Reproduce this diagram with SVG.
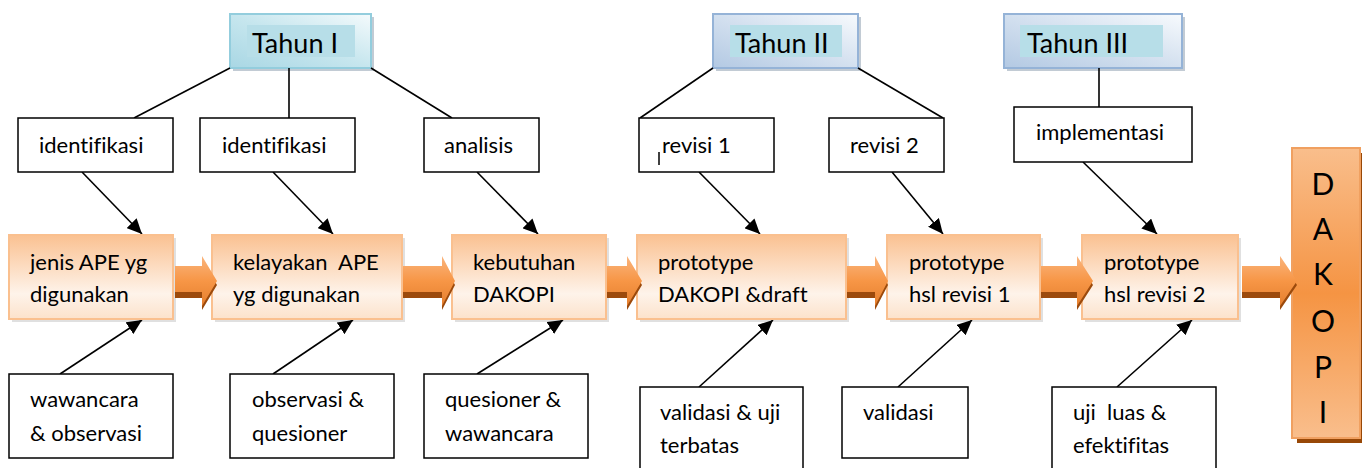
<svg xmlns="http://www.w3.org/2000/svg" width="1362" height="468" viewBox="0 0 1362 468">
<defs>
<linearGradient id="gOr" x1="0" y1="0" x2="0" y2="1">
<stop offset="0" stop-color="#FAC191"/><stop offset="0.7" stop-color="#FEF3EA"/><stop offset="1" stop-color="#FCE2CB"/>
</linearGradient>
<linearGradient id="gT1" x1="1" y1="0" x2="0" y2="1">
<stop offset="0" stop-color="#F4FAFC"/><stop offset="0.5" stop-color="#C6E6EE"/><stop offset="1" stop-color="#A9D7E4"/>
</linearGradient>
<linearGradient id="gT2" x1="1" y1="0" x2="0" y2="1">
<stop offset="0" stop-color="#F7FAFD"/><stop offset="0.5" stop-color="#D3E0EF"/><stop offset="1" stop-color="#B3C9E3"/>
</linearGradient>
<linearGradient id="gArr" x1="0" y1="0" x2="0" y2="1">
<stop offset="0" stop-color="#FAB57E"/><stop offset="0.5" stop-color="#F79646"/><stop offset="1" stop-color="#E57F2E"/>
</linearGradient>
<linearGradient id="gDak" x1="0" y1="0" x2="0" y2="1">
<stop offset="0" stop-color="#F9BE8C"/><stop offset="0.5" stop-color="#F59443"/><stop offset="1" stop-color="#F9BE8C"/>
</linearGradient>
<marker id="ah" markerUnits="userSpaceOnUse" markerWidth="16" markerHeight="14" refX="15" refY="7" orient="auto">
<path d="M0,0 L15,7 L0,14 z" fill="#000"/>
</marker>
<style>
text{font-family:Lato,"Open Sans","Liberation Sans",sans-serif;fill:#000;white-space:pre;font-variant-ligatures:none;font-feature-settings:"liga" 0}
.t{font-size:22px}
.th{font-size:27px}
.dk{font-size:30px;text-anchor:middle}
.wb{fill:#fff;stroke:#000;stroke-width:1.5}
.ob{fill:url(#gOr);stroke:#FAC08F;stroke-width:2}
.sh{fill:#000;opacity:0.12}
.c{stroke:#000;stroke-width:1.6;fill:none}
.ca{stroke:#000;stroke-width:1.6;fill:none;marker-end:url(#ah)}
.hl{fill:#B7DEE8}
.as{fill:#9C4A0C}
.am{fill:url(#gArr)}
</style>
</defs>
<rect width="1362" height="468" fill="#fff"/>

<g id="tahun1">
<rect x="233" y="17" width="141" height="54" fill="#9AA8B8" opacity="0.6"/>
<rect x="230" y="14" width="141" height="54" fill="url(#gT1)" stroke="#93CDDD" stroke-width="2"/>
<rect x="247" y="25" width="108" height="32" class="hl"/>
<text x="252" y="53" class="th">Tahun I</text>
</g>
<g id="tahun2">
<rect x="716" y="17" width="145" height="54" fill="#9AA8B8" opacity="0.6"/>
<rect x="713" y="14" width="145" height="54" fill="url(#gT2)" stroke="#95B3D7" stroke-width="2"/>
<rect x="730" y="25" width="112" height="32" class="hl"/>
<text x="735" y="53" class="th">Tahun II</text>
</g>
<g id="tahun3">
<rect x="1007" y="17" width="178" height="54" fill="#9AA8B8" opacity="0.6"/>
<rect x="1004" y="14" width="178" height="54" fill="url(#gT2)" stroke="#95B3D7" stroke-width="2"/>
<rect x="1020" y="25" width="143" height="32" class="hl"/>
<text x="1027" y="53" class="th">Tahun III</text>
</g>

<g id="connectors">
<line x1="230" y1="68" x2="134" y2="118" class="c"/>
<line x1="289" y1="68" x2="289" y2="118" class="c"/>
<line x1="371" y1="68" x2="452" y2="118" class="c"/>
<line x1="713" y1="68" x2="640" y2="118" class="c"/>
<line x1="858" y1="68" x2="943" y2="118" class="c"/>
<line x1="1099" y1="68" x2="1099" y2="107" class="c"/>
<line x1="82" y1="172" x2="142" y2="234" class="ca"/>
<line x1="273" y1="172" x2="333" y2="234" class="ca"/>
<line x1="477" y1="172" x2="538" y2="234" class="ca"/>
<line x1="699" y1="172" x2="760" y2="234" class="ca"/>
<line x1="892" y1="172" x2="943" y2="234" class="ca"/>
<line x1="1083" y1="162" x2="1157" y2="234" class="ca"/>
<line x1="60" y1="374" x2="142" y2="320" class="ca"/>
<line x1="273" y1="374" x2="353" y2="320" class="ca"/>
<line x1="477" y1="374" x2="563" y2="320" class="ca"/>
<line x1="699" y1="387" x2="773" y2="320" class="ca"/>
<line x1="898" y1="387" x2="972" y2="320" class="ca"/>
<line x1="1117" y1="387" x2="1192" y2="320" class="ca"/>
</g>

<g id="identifikasi1"><rect x="18" y="118" width="155" height="54" class="wb"/><text x="39" y="153" class="t">identifikasi</text></g>
<g id="identifikasi2"><rect x="200" y="118" width="155" height="54" class="wb"/><text x="222" y="153" class="t">identifikasi</text></g>
<g id="analisis"><rect x="424" y="118" width="115" height="54" class="wb"/><text x="444" y="153" class="t">analisis</text></g>
<g id="revisi1"><rect x="639" y="118" width="135" height="54" class="wb"/><line x1="659" y1="152" x2="659" y2="165" stroke="#000" stroke-width="1.5"/><text x="662" y="153" class="t">revisi 1</text></g>
<g id="revisi2"><rect x="829" y="118" width="115" height="54" class="wb"/><text x="850" y="153" class="t">revisi 2</text></g>
<g id="implementasi"><rect x="1014" y="107" width="178" height="55" class="wb"/><text x="1036" y="140" class="t">implementasi</text></g>

<g id="box1"><rect x="12" y="238" width="164" height="84" class="sh"/><rect x="9" y="235" width="164" height="84" class="ob"/><text x="30" y="270" class="t">jenis APE yg</text><text x="30" y="302" class="t">digunakan</text></g>
<g id="box2"><rect x="215" y="238" width="190" height="84" class="sh"/><rect x="212" y="235" width="190" height="84" class="ob"/><text x="233" y="270" class="t">kelayakan  APE</text><text x="233" y="302" class="t">yg digunakan</text></g>
<g id="box3"><rect x="455" y="238" width="154" height="84" class="sh"/><rect x="452" y="235" width="154" height="84" class="ob"/><text x="473" y="270" class="t">kebutuhan</text><text x="473" y="302" class="t">DAKOPI</text></g>
<g id="box4"><rect x="640" y="238" width="209" height="84" class="sh"/><rect x="637" y="235" width="209" height="84" class="ob"/><text x="658" y="270" class="t">prototype</text><text x="658" y="302" class="t">DAKOPI &amp;draft</text></g>
<g id="box5"><rect x="890" y="238" width="153" height="84" class="sh"/><rect x="887" y="235" width="153" height="84" class="ob"/><text x="909" y="270" class="t">prototype</text><text x="909" y="302" class="t">hsl revisi 1</text></g>
<g id="box6"><rect x="1085" y="238" width="156" height="84" class="sh"/><rect x="1082" y="235" width="156" height="84" class="ob"/><text x="1104" y="270" class="t">prototype</text><text x="1104" y="302" class="t">hsl revisi 2</text></g>

<g id="dakopi">
<rect x="1297" y="153" width="68" height="290" fill="#984807"/>
<rect x="1292" y="148" width="68" height="290" fill="url(#gDak)" stroke="#F0A060" stroke-width="2"/>
<text x="1323" y="195" class="dk">D</text>
<text x="1323" y="240" class="dk">A</text>
<text x="1323" y="285" class="dk">K</text>
<text x="1323" y="332" class="dk">O</text>
<text x="1323" y="378" class="dk">P</text>
<text x="1323" y="423" class="dk">I</text>
</g>

<g id="flow-arrows">
<polygon class="as" points="175,270 202,270 202,260 217,285 202,310 202,298 175,298"/>
<polygon class="am" points="175,266 202,266 202,256 217,281 202,306 202,292 175,292"/>
<polygon class="as" points="403,270 442,270 442,260 455,285 442,310 442,298 403,298"/>
<polygon class="am" points="403,266 442,266 442,256 455,281 442,306 442,292 403,292"/>
<polygon class="as" points="607,270 627,270 627,260 642,285 627,310 627,298 607,298"/>
<polygon class="am" points="607,266 627,266 627,256 642,281 627,306 627,292 607,292"/>
<polygon class="as" points="847,270 875,270 875,260 888,285 875,310 875,298 847,298"/>
<polygon class="am" points="847,266 875,266 875,256 888,281 875,306 875,292 847,292"/>
<polygon class="as" points="1041,270 1077,270 1077,260 1093,285 1077,310 1077,298 1041,298"/>
<polygon class="am" points="1041,266 1077,266 1077,256 1093,281 1077,306 1077,292 1041,292"/>
<polygon class="as" points="1242,270 1280,270 1280,260 1297,285 1280,310 1280,298 1242,298"/>
<polygon class="am" points="1242,266 1280,266 1280,256 1297,281 1280,306 1280,292 1242,292"/>
</g>

<g id="wawancara"><rect x="9" y="374" width="164" height="84" class="wb"/><text x="30" y="407" class="t">wawancara</text><text x="30" y="441" class="t">&amp; observasi</text></g>
<g id="observasi"><rect x="230" y="374" width="164" height="84" class="wb"/><text x="252" y="407" class="t">observasi &amp;</text><text x="252" y="441" class="t">quesioner</text></g>
<g id="quesioner"><rect x="424" y="374" width="164" height="84" class="wb"/><text x="445" y="407" class="t">quesioner &amp;</text><text x="445" y="441" class="t">wawancara</text></g>
<g id="validasi-uji"><rect x="640" y="387" width="163" height="90" class="wb"/><text x="660" y="420" class="t">validasi &amp; uji</text><text x="660" y="453" class="t">terbatas</text></g>
<g id="validasi"><rect x="842" y="387" width="126" height="71" class="wb"/><text x="863" y="420" class="t">validasi</text></g>
<g id="uji-luas"><rect x="1052" y="387" width="164" height="90" class="wb"/><text x="1073" y="420" class="t">uji  luas &amp;</text><text x="1073" y="453" class="t">efektifitas</text></g>
</svg>
